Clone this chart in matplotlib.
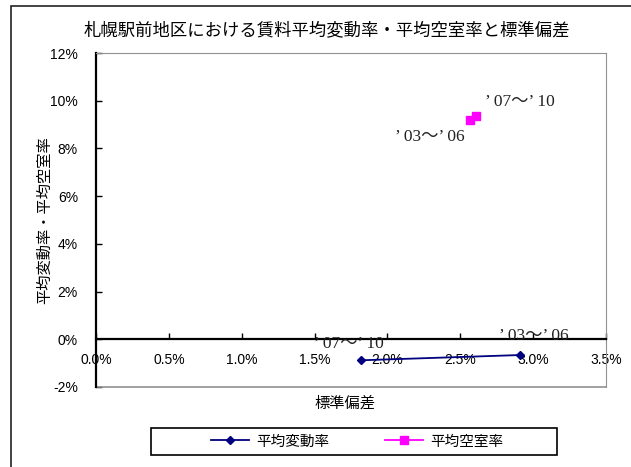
import matplotlib
matplotlib.use('Agg')
import matplotlib.pyplot as plt
from matplotlib.patches import Rectangle
from matplotlib.ticker import FuncFormatter, MultipleLocator

plt.rcParams['font.family'] = ['Liberation Sans', 'Noto Sans CJK JP']

# 標準偏差 (%) と平均値 (%)
periods = ['’ 03～’ 06', '’ 07～’ 10']
std_change = [2.91, 1.82]
avg_change = [-0.66, -0.88]
std_vacancy = [2.57, 2.61]
avg_vacancy = [9.20, 9.38]

# label offsets (pixels) for each period
change_offsets = [(14, 19), (-12, 16)]
vacancy_offsets = [(-41, -17), (44, 14)]

W, H = 631, 467
fig = plt.figure(figsize=(W / 100, H / 100), dpi=100)

# chart area border
fig.patches.append(Rectangle((11 / W, -0.1), 1.2, 1.1 - 6 / H, transform=fig.transFigure,
                             fill=False, edgecolor='#222222', linewidth=1.2))

ax = fig.add_axes([96 / W, 1 - 387 / H, 510 / W, 334 / H])

ax.plot(std_change, avg_change, color='#000080', marker='D', markersize=4.4,
        linewidth=1.3, label='平均変動率', zorder=3)
ax.plot(std_vacancy, avg_vacancy, color='#FF00FF', marker='s', markersize=6.3,
        linewidth=1.3, label='平均空室率', zorder=3)

for xs, ys, offs in [(std_change, avg_change, change_offsets),
                     (std_vacancy, avg_vacancy, vacancy_offsets)]:
    for p, x, y, off in zip(periods, xs, ys, offs):
        ax.annotate(p, (x, y), xytext=off, textcoords='offset pixels',
                    ha='center', va='center', fontsize=12.5,
                    family=['Liberation Serif', 'Noto Sans CJK JP'], color='#222222')

ax.set_xlim(0, 3.5)
ax.set_ylim(-2, 12)
ax.xaxis.set_major_locator(MultipleLocator(0.5))
ax.yaxis.set_major_locator(MultipleLocator(2))
ax.xaxis.set_major_formatter(FuncFormatter(lambda v, _: f'{v:.1f}%'))
ax.yaxis.set_major_formatter(FuncFormatter(lambda v, _: f'{v:.0f}%'))

# x axis crosses at 0%
ax.spines['bottom'].set_position(('data', 0))
ax.spines['bottom'].set_linewidth(1.6)
ax.spines['left'].set_linewidth(1.6)
ax.spines['top'].set_color('#909090')
ax.spines['right'].set_color('#909090')
ax.axhline(-2, color='#909090', linewidth=1.2, clip_on=False)

ax.tick_params(axis='x', direction='in', length=4, width=1, pad=10, labelsize=10)
ax.tick_params(axis='y', direction='in', length=4, width=1, pad=13, labelsize=10)

fig.text(327 / W, 1 - 30 / H, '札幌駅前地区における賃料平均変動率・平均空室率と標準偏差',
         ha='center', va='center', fontsize=12.5)
fig.text(45 / W, 1 - 220 / H, '平均変動率・平均空室率', rotation=90,
         ha='center', va='center', fontsize=11)
fig.text(345 / W, 1 - 403 / H, '標準偏差', ha='center', va='center', fontsize=11)

# legend box
fig.patches.append(Rectangle((151 / W, 1 - 455 / H), 406 / W, 27 / H,
                             transform=fig.transFigure, fill=False,
                             edgecolor='black', linewidth=1.2))
fig.legend(loc='center', bbox_to_anchor=(357 / W, 1 - 441.5 / H), ncol=2,
           frameon=False, fontsize=10.5, handlelength=2.6, handletextpad=0.5,
           columnspacing=3.8, borderaxespad=0, markerscale=0.85)

fig.savefig('out.png', dpi=100)
